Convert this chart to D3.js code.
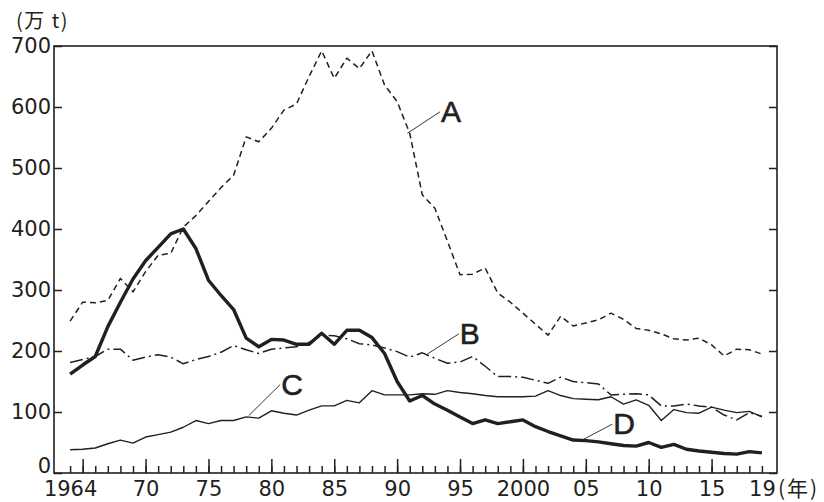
<!DOCTYPE html>
<html>
<head>
<meta charset="utf-8">
<script src="https://cdn.jsdelivr.net/npm/d3@7"></script>
<style>
  body { margin: 0; background: #fff; }
  svg { display: block; }
</style>
</head>
<body>
<svg id="chart" width="824" height="502"></svg>
<script>
// years on the x axis
const years = d3.range(1964, 2020);

// values (万t)
const seriesA = [249, 280, 279, 283, 319, 297, 330, 357, 360, 403,
  422, 445, 468, 488, 551, 543, 565, 595, 605, 650,
  692, 647, 680, 663, 692, 636, 609, 557, 456, 434,
  380, 325, 326, 336, 295, 280, 262, 244, 226, 257,
  241, 246, 251, 262, 252, 237, 234, 228, 220, 218,
  221, 210, 192, 203, 202, 195];
const seriesB = [181, 186, 191, 203, 203, 185, 190, 194, 190, 179,
  186, 191, 198, 209, 202, 196, 203, 205, 207, 214,
  226, 225, 220, 212, 210, 205, 199, 190, 197, 188,
  180, 182, 191, 175, 158, 158, 157, 152, 147, 157,
  150, 148, 146, 128, 129, 130, 128, 110, 110, 113,
  110, 108, 95, 87, 99, 93];
const seriesC = [38, 39, 41, 48, 54, 49, 59, 63, 67, 75,
  86, 81, 86, 86, 92, 90, 102, 98, 95, 103,
  110, 110, 119, 115, 135, 128, 128, 128, 130, 129,
  135, 132, 130, 127, 125, 125, 125, 126, 135, 127,
  122, 121, 120, 125, 113, 120, 111, 86, 104, 99,
  98, 108, 103, 99, 101, 92];
const seriesD = [162, 177, 191, 240, 280, 318, 348, 370, 392, 400,
  368, 316, 291, 268, 221, 207, 219, 218, 211, 211,
  229, 211, 234, 234, 222, 196, 150, 118, 127, 113,
  103, 92, 81, 87, 81, 84, 87, 76, 68, 61,
  54, 53, 51, 48, 45, 44, 50, 42, 47, 39,
  36, 34, 32, 31, 35, 33];

const xLabelYears = [1964, 1970, 1975, 1980, 1985, 1990, 1995, 2000, 2005, 2010, 2015, 2019];
const xLabelText = ['1964', '70', '75', '80', '85', '90', '95', '2000', '05', '10', '15', '19'];
const yTicks = [0, 100, 200, 300, 400, 500, 600, 700];

// label letters and the point each leader line starts from (year, value)
const seriesNames = ['A', 'B', 'C', 'D'];
const leaderFrom = [[1990.82, 557], [1992.4, 195], [1978.2, 94], [2004.8, 55]];
const leaderTo = [[1993.4, 592], [1994.9, 228], [1980.7, 145], [2007.1, 80]];

const ink = '#231f20';
const numFont = '"DejaVu Sans", Verdana, sans-serif';
const cjkFont = '"Noto Sans CJK JP", "DejaVu Sans", sans-serif';

const plotL = 54, plotR = 777, plotT = 46, plotB = 473;

const svg = d3.select('#chart');

const x = d3.scaleLinear().domain([1962.72, 2020.2]).range([plotL, plotR]);
const y = d3.scaleLinear().domain([0, 700]).range([plotB, plotT]);

// frame
svg.append('rect')
  .attr('x', plotL).attr('y', plotT)
  .attr('width', plotR - plotL).attr('height', plotB - plotT)
  .attr('fill', 'none').attr('stroke', ink).attr('stroke-width', 1.6);

// x ticks: short every year, long every 5 years
const xMinor = svg.append('g').attr('transform', 'translate(0,' + plotB + ')')
  .call(d3.axisBottom(x).tickValues(years).tickSize(-7).tickFormat(''));
const xMajor = svg.append('g').attr('transform', 'translate(0,' + plotB + ')')
  .call(d3.axisBottom(x).tickValues(years.filter(d => d % 5 === 0)).tickSize(-14).tickFormat(''));
const xLab = svg.append('g').attr('transform', 'translate(0,' + plotB + ')')
  .call(d3.axisBottom(x).tickValues(xLabelYears).tickSize(0).tickPadding(8)
    .tickFormat((d, i) => xLabelText[i]));

// y ticks, inside on both sides
const yLeft = svg.append('g').attr('transform', 'translate(' + plotL + ',0)')
  .call(d3.axisLeft(y).tickValues(yTicks).tickSize(-8).tickPadding(3));
const yRight = svg.append('g').attr('transform', 'translate(' + plotR + ',0)')
  .call(d3.axisRight(y).tickValues(yTicks).tickSize(-8).tickFormat(''));

[xMinor, xMajor, xLab, yLeft, yRight].forEach(g => {
  g.select('.domain').remove();
  g.selectAll('line').attr('stroke', ink).attr('stroke-width', 1.5);
  g.selectAll('text').attr('fill', ink).style('font-family', numFont).style('font-size', '21px');
});
// the zero label sits a little higher so it clears the x axis
yLeft.selectAll('.tick').filter(d => d === 0).select('text').attr('transform', 'translate(0,-7)');

// unit labels
svg.append('text').attr('x', 16).attr('y', 28)
  .attr('fill', ink).style('font-family', cjkFont).style('font-size', '20px')
  .style('letter-spacing', '1.5px')
  .text('(万 t)');
svg.append('text').attr('x', 778).attr('y', 496)
  .attr('fill', ink).style('font-family', cjkFont).style('font-size', '21px')
  .style('letter-spacing', '2px')
  .text('(年)');

// lines
const line = d3.line().x((d, i) => x(years[i])).y(d => y(d));

const lineStyles = [
  { data: seriesC, width: 1.4, dash: null },
  { data: seriesB, width: 1.5, dash: '13,4,2,4' },
  { data: seriesA, width: 1.5, dash: '6,4' },
  { data: seriesD, width: 3.4, dash: null }
];

lineStyles.forEach(s => {
  svg.append('path')
    .datum(s.data)
    .attr('d', line)
    .attr('fill', 'none')
    .attr('stroke', ink)
    .attr('stroke-width', s.width)
    .attr('stroke-linejoin', 'round')
    .attr('stroke-dasharray', s.dash);
});

// letters with leader lines
seriesNames.forEach((name, i) => {
  const a = leaderFrom[i], b = leaderTo[i];
  svg.append('line')
    .attr('x1', x(a[0])).attr('y1', y(a[1]))
    .attr('x2', x(b[0])).attr('y2', y(b[1]))
    .attr('stroke', ink).attr('stroke-width', 0.9);
  svg.append('text')
    .attr('x', x(b[0]) + 1).attr('y', y(b[1]) + 10)
    .attr('fill', ink).attr('stroke', ink).attr('stroke-width', 0.6)
    .style('font-family', '"Liberation Sans", Arial, sans-serif')
    .style('font-size', '30px')
    .text(name);
});
</script>
</body>
</html>
